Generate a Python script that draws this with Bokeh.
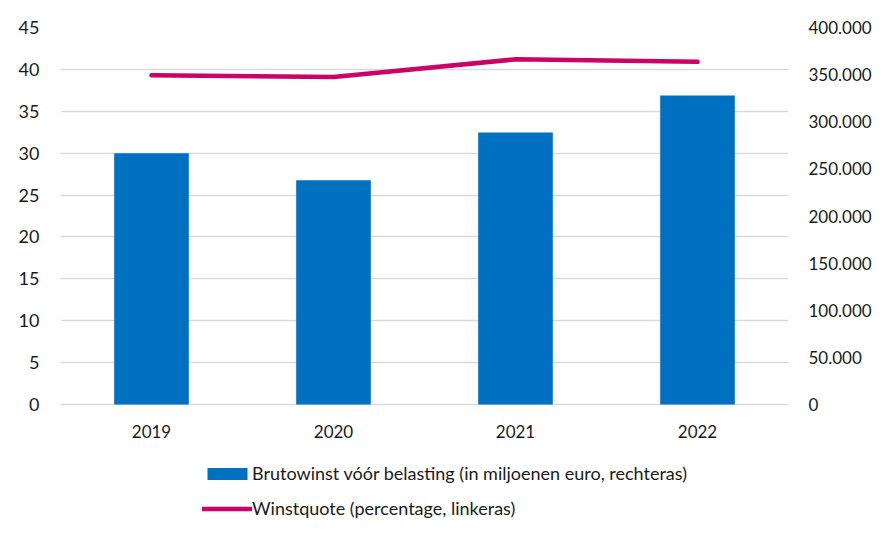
from bokeh.plotting import figure
from bokeh.models import (Range1d, FactorRange, LinearAxis, FixedTicker, CustomJSTickFormatter,
                          Legend, LegendItem, ColumnDataSource)
from bokeh.core.properties import value
from bokeh.embed import file_html
from bokeh.resources import INLINE

years = ["2019", "2020", "2021", "2022"]
brutowinst = [266500, 238000, 288600, 327800]      # miljoenen euro, rechteras
winstquote = [39.3, 39.1, 41.2, 40.9]              # percentage, linkeras
left_ticks = [0, 5, 10, 15, 20, 25, 30, 35, 40, 45]
right_ticks = [0, 50000, 100000, 150000, 200000, 250000, 300000, 350000, 400000]

bar_label = "Brutowinst vóór belasting (in miljoenen euro, rechteras)"
line_label = "Winstquote (percentage, linkeras)"

FONT = "Lato"
TXT = "#1a1a1a"
GRID = "#d9d9d9"

# layout (pixels)
PLOT_H = 377          # height of the 0..45 value area
BELOW = 131           # room under the zero line for category labels and legend
LEFT_MAX, RIGHT_MAX = 45, 400000
left_start = -LEFT_MAX * BELOW / PLOT_H
right_start = -RIGHT_MAX * BELOW / PLOT_H
label_y = -LEFT_MAX * 27 / PLOT_H

src = ColumnDataSource(dict(year=years, bw=brutowinst, wq=winstquote,
                            ly=[label_y] * len(years)))

p = figure(x_range=FactorRange(*years, range_padding=0), y_range=Range1d(left_start, LEFT_MAX),
           frame_width=728, frame_height=PLOT_H + BELOW,
           min_border_left=60, min_border_right=96, min_border_top=27, min_border_bottom=0,
           output_backend="svg", toolbar_location=None, outline_line_color=None,
           background_fill_color="white", border_fill_color="white")

p.extra_y_ranges = {"right": Range1d(right_start, RIGHT_MAX)}

bars = p.vbar(x="year", top="bw", bottom=0, width=0.41, source=src, y_range_name="right",
              fill_color="#0070C0", line_color=None)
line = p.line(x="year", y="wq", source=src, line_color="#CC0066", line_width=4.5,
              line_cap="round", line_join="round")

# category labels under the zero line
p.text(x="year", y="ly", text="year", source=src, text_align="center", text_baseline="middle",
       text_font=value(FONT), text_font_size="17px", text_color=TXT)

# left axis
ya = p.yaxis[0]
ya.ticker = FixedTicker(ticks=left_ticks)
ya.axis_line_color = None
ya.major_tick_line_color = None
ya.minor_tick_line_color = None
ya.major_label_standoff = 15
ya.major_label_text_font = FONT
ya.major_label_text_font_size = "18px"
ya.major_label_text_color = TXT

# right axis
ra = LinearAxis(y_range_name="right", ticker=FixedTicker(ticks=right_ticks),
                formatter=CustomJSTickFormatter(code="return tick.toFixed(0).replace(/\\B(?=(\\d{3})+(?!\\d))/g, '.');"))
ra.axis_line_color = None
ra.major_tick_line_color = None
ra.minor_tick_line_color = None
ra.major_label_standoff = 14
ra.major_label_text_font = FONT
ra.major_label_text_font_size = "17px"
ra.major_label_text_color = TXT
p.add_layout(ra, "right")

p.xaxis.visible = False
p.xgrid.grid_line_color = None
p.ygrid.grid_line_color = GRID
p.ygrid.grid_line_width = 1.5

legend = Legend(items=[LegendItem(label=bar_label, renderers=[bars]),
                       LegendItem(label=line_label, renderers=[line])],
                location=(142, 16), orientation="vertical",
                glyph_width=50, glyph_height=15, label_height=22, spacing=13,
                label_standoff=0, padding=0, margin=0,
                border_line_color=None, background_fill_alpha=0,
                label_text_font=FONT, label_text_font_size="18px", label_text_color=TXT)
p.add_layout(legend, "center")

open("out.html", "w").write(file_html(p, INLINE))
